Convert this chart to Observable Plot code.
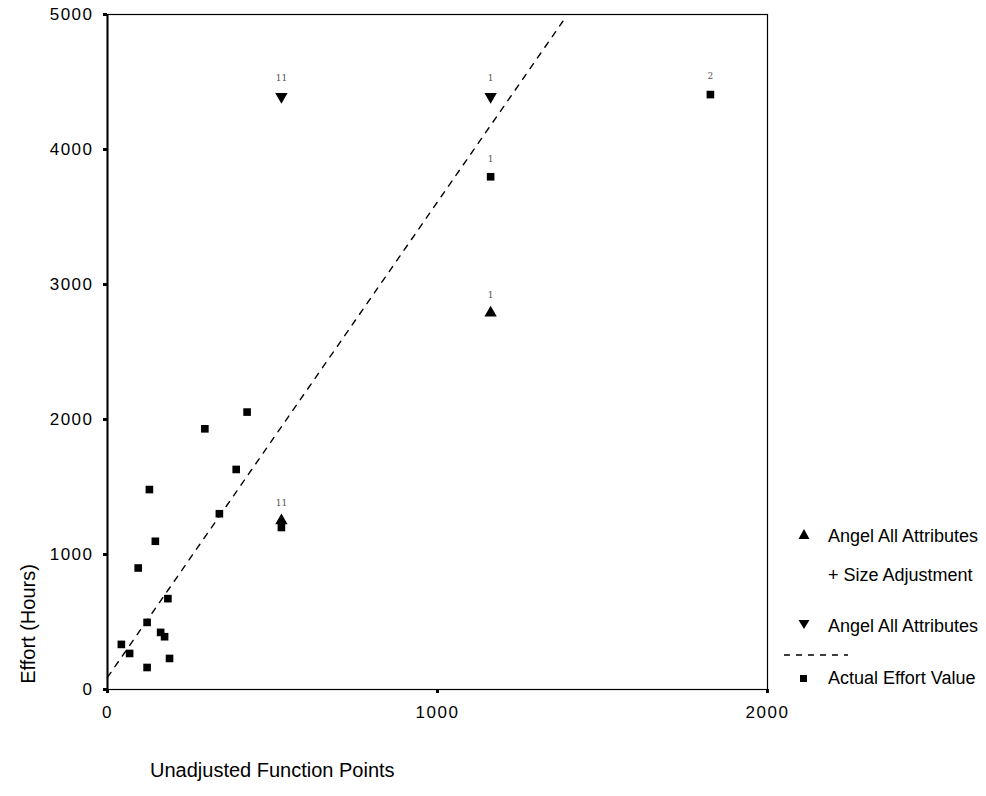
<!DOCTYPE html>
<html>
<head>
<meta charset="utf-8">
<script src="https://cdn.jsdelivr.net/npm/d3@7"></script>
<script src="https://cdn.jsdelivr.net/npm/@observablehq/plot@0.6"></script>
<style>
  html, body { margin: 0; padding: 0; background: #fff; }
  #wrap { position: relative; width: 986px; height: 796px; font-family: "Liberation Sans", Arial, sans-serif; color: #000; }
  #chart { position: absolute; left: 0; top: 0; }
  #chart svg [aria-label="y-axis tick label"] text,
  #chart svg [aria-label="x-axis tick label"] text { letter-spacing: 1.5px; }
  .title { position: absolute; font-size: 20px; white-space: nowrap; }
  .leg { position: absolute; font-size: 18px; white-space: nowrap; line-height: 1; }
  .sym { position: absolute; }
</style>
</head>
<body>
<div id="wrap">
  <div id="chart"></div>
  <div class="title" id="ytitle" style="left:28px; top:624px; transform: translate(-50%,-50%) rotate(-90deg);">Effort (Hours)</div>
  <div class="title" style="left:150px; top:759px;">Unadjusted Function Points</div>

  <svg class="sym" style="left:797px; top:527px;" width="14" height="14"><path d="M7,2 L12.5,12 L1.5,12 Z" fill="#000"/></svg>
  <div class="leg" style="left:828px; top:527px;">Angel All Attributes</div>
  <div class="leg" style="left:828px; top:566px;">+ Size Adjustment</div>

  <svg class="sym" style="left:797px; top:617px;" width="14" height="14"><path d="M1.5,3 L12.5,3 L7,12 Z" fill="#000"/></svg>
  <div class="leg" style="left:828px; top:617px;">Angel All Attributes</div>

  <svg class="sym" style="left:784px; top:652px;" width="64" height="6"><line x1="0" y1="3" x2="64" y2="3" stroke="#000" stroke-width="1.3" stroke-dasharray="6,6"/></svg>

  <svg class="sym" style="left:799px; top:674px;" width="10" height="10"><rect x="1" y="1" width="7" height="7" fill="#000"/></svg>
  <div class="leg" style="left:828px; top:669px;">Actual Effort Value</div>
</div>
<script>
// ---- data ----
const actualX = [295, 423, 390, 339, 127, 145, 93, 183, 120, 161, 173, 42, 67, 188, 120, 527, 1161, 1827];
const actualY = [1931, 2055, 1630, 1302, 1481, 1098, 900, 673, 497, 423, 391, 334, 267, 230, 163, 1200, 3798, 4407];
const actualLabels = ["", "", "", "", "", "", "", "", "", "", "", "", "", "", "", "", "1", "2"];

const angelSizeX = [527, 1161];
const angelSizeY = [1250, 2790];
const angelSizeLabels = ["11", "1"];

const angelX = [527, 1161];
const angelY = [4392, 4392];
const angelLabels = ["11", "1"];

const trendX = [0, 1380];
const trendY = [90, 4950];

const xTicks = [0, 1000, 2000];
const yTicks = [0, 1000, 2000, 3000, 4000, 5000];

// ---- tables ----
const actual = actualX.map((x, i) => ({x, y: actualY[i], label: actualLabels[i]}));
const angelSize = angelSizeX.map((x, i) => ({x, y: angelSizeY[i], label: angelSizeLabels[i]}));
const angel = angelX.map((x, i) => ({x, y: angelY[i], label: angelLabels[i]}));
const trend = trendX.map((x, i) => ({x, y: trendY[i]}));
const labels = [...actual, ...angelSize, ...angel].filter(d => d.label);

const chart = Plot.plot({
  width: 986,
  height: 796,
  marginLeft: 107,
  marginRight: 219,
  marginTop: 14,
  marginBottom: 107,
  style: {fontFamily: "Liberation Sans, Arial, sans-serif", fontSize: "17px", color: "#000", background: "#fff"},
  x: {domain: [0, 2000]},
  y: {domain: [0, 5000]},
  marks: [
    Plot.frame({stroke: "#000", strokeWidth: 1.2}),
    Plot.ruleX([0], {stroke: "#000", strokeWidth: 2}),
    Plot.axisY({ticks: yTicks, tickSize: 4, tickPadding: 10, strokeWidth: 3, label: null, tickFormat: d => String(d)}),
    Plot.axisX({ticks: xTicks, tickSize: 4, tickPadding: 12, strokeWidth: 3, label: null, tickFormat: d => String(d)}),
    Plot.line(trend, {x: "x", y: "y", stroke: "#000", strokeWidth: 1.4, strokeDasharray: "6,7"}),
    Plot.dot(actual, {x: "x", y: "y", symbol: "square", r: 4.3, fill: "#000", stroke: "none"}),
    Plot.dot(angelSize, {x: "x", y: "y", symbol: "triangle", r: 4.6, fill: "#000", stroke: "none"}),
    Plot.dot(angel, {x: "x", y: "y", symbol: "triangle", r: 4.6, rotate: 180, fill: "#000", stroke: "none"}),
    Plot.text(labels, {x: "x", y: "y", text: "label", dy: -18, fontSize: 9, fill: "#555", fontFamily: "DejaVu Serif, serif"})
  ]
});
document.getElementById("chart").appendChild(chart);
</script>
</body>
</html>
